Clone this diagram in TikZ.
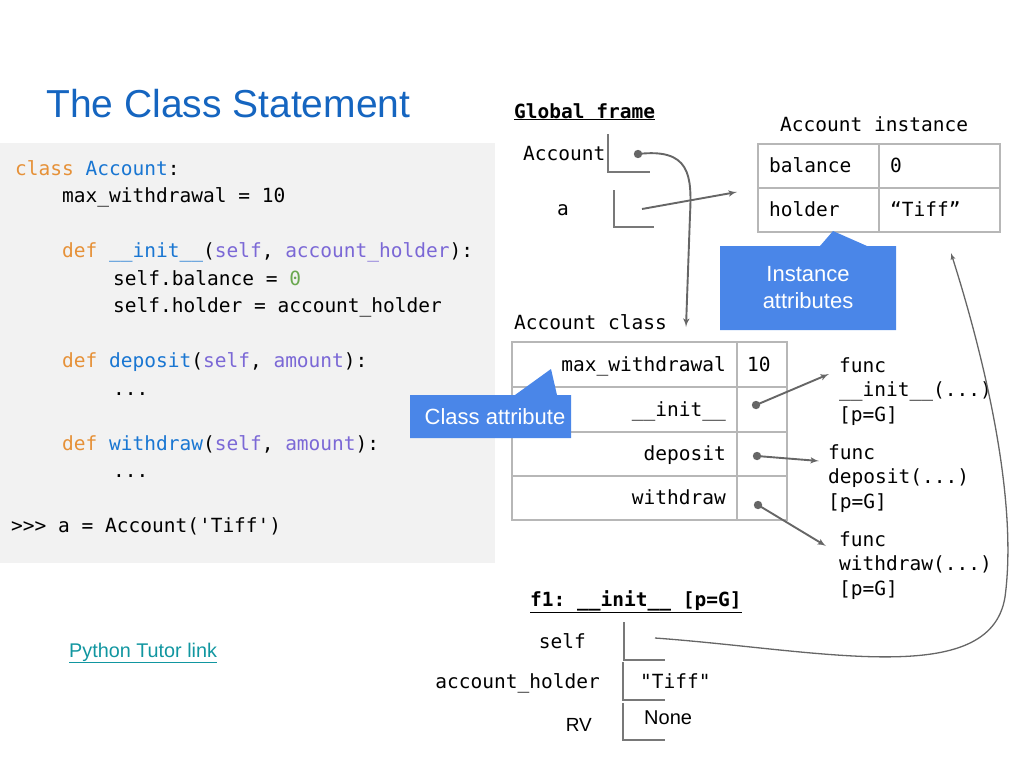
\documentclass[tikz,border=0pt]{standalone}
\usepackage{fontspec}
\usepackage{xcolor}
\setmainfont{Liberation Sans}
\setsansfont{Liberation Sans}
\setmonofont{DejaVu Sans Mono}
\usetikzlibrary{arrows}

\definecolor{kwc}{RGB}{230,145,56}
\definecolor{nmc}{RGB}{25,118,210}
\definecolor{pac}{RGB}{123,104,214}
\definecolor{nuc}{RGB}{106,168,79}
\definecolor{titlec}{RGB}{21,101,192}
\definecolor{linkc}{RGB}{17,150,160}
\definecolor{notec}{RGB}{74,134,232}
\definecolor{tabc}{RGB}{183,183,183}
\definecolor{slotc}{RGB}{120,120,120}
\definecolor{edgec}{RGB}{102,102,102}
\definecolor{boxc}{RGB}{242,242,242}

\newcommand\kw[1]{\textcolor{kwc}{#1}}
\newcommand\nm[1]{\textcolor{nmc}{#1}}
\newcommand\pa[1]{\textcolor{pac}{#1}}
\newcommand\numc[1]{\textcolor{nuc}{#1}}
\newcommand\codefont{\ttfamily\fontsize{19.5}{24.5}\selectfont}

\begin{document}
\begin{tikzpicture}[x=1pt,y=-1pt]
\tikzset{edge/.style = {->,>=latex',draw=edgec,line width=1.9pt},
  code/.style = {anchor=base west,inner sep=0pt,font=\codefont},
  rcode/.style = {anchor=base east,inner sep=0pt,font=\codefont},
  tab/.style = {draw=tabc,line width=1.4pt},
  slot/.style = {draw=slotc,line width=2.4pt},
  dot/.style = {fill=edgec},
  note/.style = {fill=notec},
  notetext/.style = {text=white,align=center,inner sep=0pt,font=\fontsize{22}{27}\selectfont}}
\useasboundingbox (0,0) rectangle (1024,768);

\node[anchor=base west,inner sep=0pt,text=titlec,font=\fontsize{39}{45}\selectfont] (title) at (46,117) {The Class Statement};

\fill[boxc] (0,143) rectangle (495,563);
\node[code] (c1) at (15,175) {\kw{class} \nm{Account}:};
\node[code] (c2) at (62,202.5) {max\_withdrawal = 10};
\node[code] (c3) at (62,257.5) {\kw{def} \nm{\_\_init\_\_}(\pa{self}, \pa{account\_holder}):};
\node[code] (c4) at (113,285) {self.balance = \numc{0}};
\node[code] (c5) at (113,312.5) {self.holder = account\_holder};
\node[code] (c6) at (62,367.5) {\kw{def} \nm{deposit}(\pa{self}, \pa{amount}):};
\node[code] (c7) at (113,395) {...};
\node[code] (c8) at (62,450) {\kw{def} \nm{withdraw}(\pa{self}, \pa{amount}):};
\node[code] (c9) at (113,477.5) {...};
\node[code] (c10) at (11,532.5) {>>> a = Account('Tiff')};

\node[anchor=base west,inner sep=0pt,text=linkc,font=\fontsize{19.8}{24}\selectfont] (link) at (69,657) {\underline{Python Tutor link}};

\node[code] (gf) at (514,118) {\textbf{\underline{Global frame}}};
\node[code] (vAcc) at (523,160) {Account};
\node[code] (va) at (557,215) {a};
\draw[slot] (608,134) |- (650,172);
\draw[slot] (614,190) |- (654,227);

\node[code] (inst) at (780,131) {Account instance};
\draw[tab] (758,144) rectangle (1000,232);
\draw[tab] (758,188) -- (1000,188);
\draw[tab] (879,144) -- (879,232);
\node[code] (bal) at (769,172) {balance};
\node[code] (balv) at (890,172) {0};
\node[code] (hol) at (769,216) {holder};
\node[code] (holv) at (890,216) {“Tiff”};

\fill[note] (720,246) -- (820,246) -- (833,231) -- (867,246) -- (896,246) -- (896,330) -- (720,330) -- cycle;
\node[notetext] (instnote) at (808,288) {Instance\\attributes};

\node[code] (cls) at (514,329) {Account class};
\draw[tab] (512,342) rectangle (787,520);
\foreach \y in {387,432,476}
  \draw[tab] (512,\y) -- (787,\y);
\draw[tab] (737,342) -- (737,520);
\node[rcode] (mw) at (726,371) {max\_withdrawal};
\node[code] (mwv) at (747,371) {10};
\node[rcode] (ini) at (726,416) {\_\_init\_\_};
\node[rcode] (dep) at (726,460) {deposit};
\node[rcode] (wit) at (726,504) {withdraw};

\fill[note] (410,395) -- (515,395) -- (551,369) -- (557,395) -- (571,395) -- (571,438) -- (410,438) -- cycle;
\node[notetext] (clsnote) at (495,417) {Class attribute};

\node[code,align=left] (fini) at (839,421) {func\\\_\_init\_\_(...)\\{}[p=G]};
\node[code,align=left] (fdep) at (828,508) {func\\deposit(...)\\{}[p=G]};
\node[code,align=left] (fwit) at (839,595) {func\\withdraw(...)\\{}[p=G]};

\node[code] (f1) at (530,606) {\textbf{\underline{f1: \_\_init\_\_ [p=G]}}};
\node[rcode] (vself) at (586,648) {self};
\node[rcode] (vhold) at (600,688) {account\_holder};
\node[anchor=base east,inner sep=0pt,font=\fontsize{19}{23}\selectfont] (vrv) at (592,731) {RV};
\draw[slot] (624,622) |- (665,660);
\draw[slot] (623,662) |- (665,700);
\draw[slot] (623,703) |- (665,740);
\node[code] (hv) at (640,688) {"Tiff"};
\node[anchor=base west,inner sep=0pt,font=\fontsize{20}{24}\selectfont] (rv) at (644,724) {None};

\coordinate (dAcc) at (638,154);
\coordinate (da) at (642,209);
\coordinate (dini) at (756,405);
\coordinate (ddep) at (757,456);
\coordinate (dwit) at (758,505);
\coordinate (dself) at (655,638);
\coordinate (eAcc) at (686,327);
\coordinate (ea) at (737,192);
\coordinate (eini) at (829,374);
\coordinate (edep) at (819,461);
\coordinate (ewit) at (826,546);
\coordinate (eself) at (951,253);

\foreach \d in {dAcc,dini,ddep,dwit}
  \fill[dot] (\d) circle (4.2);
\draw[edge] (dAcc) .. controls (690,148) and (692,175) .. (690,215) -- (eAcc);
\draw[edge] (da) -- (ea);
\draw[edge] (dini) -- (eini);
\draw[edge] (ddep) -- (edep);
\draw[edge] (dwit) -- (ewit);
\draw[edge,line width=1.3pt] (dself) .. controls (820,650) and (990,690) .. (1005,597) .. controls (1018,500) and (985,360) .. (eself);

\end{tikzpicture}
\end{document}
